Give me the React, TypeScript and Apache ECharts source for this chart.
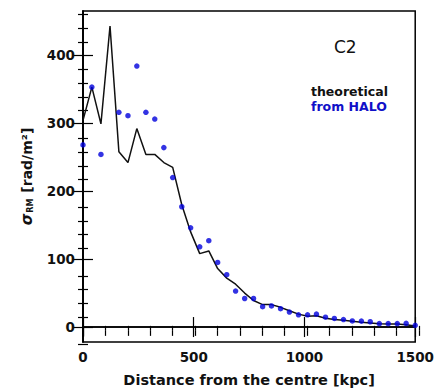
import React, { useEffect, useRef } from "react";
import * as echarts from "echarts";

// distance from the centre [kpc] for each profile bin
const distance = [0, 40, 81, 122, 162, 203, 243, 284, 324, 365, 405, 446, 486, 527, 568, 608, 649, 689, 730, 770, 811, 851, 892, 932, 973, 1014, 1054, 1095, 1135, 1176, 1216, 1257, 1297, 1338, 1378, 1419, 1459, 1500];
// theoretical sigma_RM [rad/m^2]
const theoretical = [304, 353, 299, 443, 258, 242, 292, 254, 254, 242, 235, 180, 140, 108, 112, 86, 72, 63, 50, 39, 33, 33, 29, 24, 19, 16, 16.5, 13, 11, 10, 8.5, 7, 6, 5, 4.5, 4.5, 3.5, 1.5];
// sigma_RM from HALO [rad/m^2] (null = not visible)
const halo = [268, 353, 254, null, 316, 311, 384, 316, 306, 264, 220, 177, 146, 118, 127, 95, 77, 53, 42, 42, 30, 31, 27, 22, 18, 18, 19, 14.5, 12.7, 11, 9, 8.7, 7.8, 5, 5, 5, 5.4, 2.5];

const yMajorTicks = [0, 100, 200, 300, 400];
const yMinorTicks = [-20, 20, 40, 60, 80, 120, 140, 160, 180, 220, 240, 260, 280, 320, 340, 360, 380, 420, 440, 460];
const xMin = 0;
const xMax = 1500;
const yMin = -22;
const yMax = 465;

const FONT = "DejaVu Sans";

export default function App() {
  const ref = useRef<HTMLDivElement>(null);
  useEffect(() => {
    if (!ref.current) return;
    const chart = echarts.init(ref.current, undefined, { renderer: "svg" });
    const gridRect = { left: 83, right: 18, top: 11, bottom: 46 };
    const tickStyle = { color: "#000", width: 1.2 };
    const hiddenLine = { show: false };
    const plain = (v: number) => String(v);
    const option: any = {
      animation: false,
      backgroundColor: "#fff",
      grid: [
        { ...gridRect, show: true, borderColor: "#000", borderWidth: 1.5, backgroundColor: "transparent" },
        { ...gridRect, show: false },
      ],
      xAxis: [
        {
          type: "value", gridIndex: 0, position: "bottom", min: xMin, max: xMax, interval: 500,
          axisLine: { show: true, lineStyle: { color: "#000", width: 1.5 } },
          axisTick: { show: true, inside: true, length: 10, lineStyle: tickStyle },
          axisLabel: { show: true, margin: 8, color: "#111", fontFamily: FONT, fontWeight: "bold", fontSize: 13.5, formatter: plain },
          splitLine: { show: false },
          name: "Distance from the centre [kpc]",
          nameLocation: "middle",
          nameGap: 30,
          nameTextStyle: { color: "#111", fontFamily: FONT, fontWeight: "bold", fontSize: 14.5 },
        },
        {
          type: "value", gridIndex: 0, position: "top", min: xMin, max: xMax, interval: 500,
          axisLine: { show: true, lineStyle: { color: "#000", width: 1.5 } },
          axisTick: { show: true, inside: true, length: 10, lineStyle: tickStyle },
          axisLabel: { show: false },
          splitLine: { show: false },
        },
        {
          type: "value", gridIndex: 1, position: "bottom", min: xMin, max: xMax, interval: 100,
          axisLine: hiddenLine,
          axisTick: { show: true, inside: true, length: 5, lineStyle: tickStyle },
          axisLabel: { show: false },
          splitLine: { show: false },
        },
        {
          type: "value", gridIndex: 1, position: "top", min: xMin, max: xMax, interval: 100,
          axisLine: hiddenLine,
          axisTick: { show: true, inside: true, length: 5, lineStyle: tickStyle },
          axisLabel: { show: false },
          splitLine: { show: false },
        },
      ],
      yAxis: [
        {
          type: "value", gridIndex: 0, position: "left", min: yMin, max: yMax,
          axisLine: { show: true, lineStyle: { color: "#000", width: 1.5 } },
          axisTick: { show: true, inside: true, length: 10, lineStyle: tickStyle, customValues: yMajorTicks },
          axisLabel: { show: true, margin: 8, color: "#111", fontFamily: FONT, fontWeight: "bold", fontSize: 13.5, customValues: yMajorTicks, formatter: plain },
          splitLine: { show: false },
          name: "{s|σ}{sub|RM} [rad/m²]",
          nameLocation: "middle",
          nameRotate: 90,
          nameGap: 49,
          nameTextStyle: {
            color: "#111", fontFamily: FONT, fontWeight: "bold", fontSize: 14,
            rich: {
              s: { fontFamily: FONT, fontStyle: "italic", fontWeight: "bold", fontSize: 15, color: "#111" },
              sub: { fontFamily: FONT, fontWeight: "bold", fontSize: 8, color: "#111", verticalAlign: "bottom", padding: [7, 1, 0, 1] },
            },
          },
        },
        {
          type: "value", gridIndex: 0, position: "right", min: yMin, max: yMax,
          axisLine: { show: true, lineStyle: { color: "#000", width: 1.5 } },
          axisTick: { show: true, inside: true, length: 10, lineStyle: tickStyle, customValues: yMajorTicks },
          axisLabel: { show: false },
          splitLine: { show: false },
        },
        {
          type: "value", gridIndex: 1, position: "left", min: yMin, max: yMax,
          axisLine: hiddenLine,
          axisTick: { show: true, inside: true, length: 5, lineStyle: tickStyle, customValues: yMinorTicks },
          axisLabel: { show: false },
          splitLine: { show: false },
        },
        {
          type: "value", gridIndex: 1, position: "right", min: yMin, max: yMax,
          axisLine: hiddenLine,
          axisTick: { show: true, inside: true, length: 5, lineStyle: tickStyle, customValues: yMinorTicks },
          axisLabel: { show: false },
          splitLine: { show: false },
        },
      ],
      series: [
        {
          type: "line",
          name: "theoretical",
          xAxisIndex: 0,
          yAxisIndex: 0,
          data: distance.map((d, i) => [d, theoretical[i]]),
          showSymbol: false,
          symbol: "none",
          lineStyle: { color: "#111", width: 1.5 },
          z: 3,
        },
        {
          type: "scatter",
          name: "from HALO",
          xAxisIndex: 0,
          yAxisIndex: 0,
          data: distance.map((d, i) => [d, halo[i]]).filter((p) => p[1] !== null),
          symbol: "circle",
          symbolSize: 5.5,
          itemStyle: { color: "#0000dc" },
          z: 4,
        },
      ],
      graphic: [
        { type: "text", left: 334, top: 38, style: { text: "C2", font: `17px "${FONT}"`, fill: "#111" } },
        { type: "text", left: 311, top: 85, style: { text: "theoretical", font: `bold 12.5px "${FONT}"`, fill: "#111" } },
        { type: "text", left: 311, top: 100, style: { text: "from HALO", font: `bold 12.5px "${FONT}"`, fill: "#1010c8" } },
      ],
    };
    chart.setOption(option);
    return () => chart.dispose();
  }, []);
  return (
    <div
      ref={ref}
      style={{ position: "absolute", left: 0, top: 0, width: 437, height: 392, background: "#fff" }}
    />
  );
}
